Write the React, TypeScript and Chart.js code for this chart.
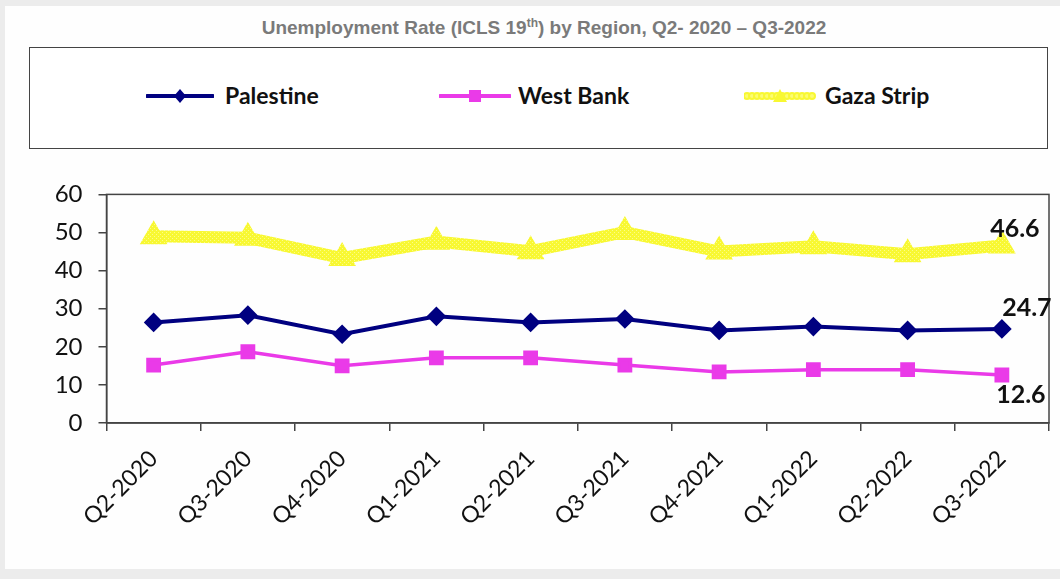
import React, { useEffect, useRef } from "react";
import { Chart, registerables } from "chart.js";

Chart.register(...registerables);

const categories = ["Q2-2020", "Q3-2020", "Q4-2020", "Q1-2021", "Q2-2021", "Q3-2021", "Q4-2021", "Q1-2022", "Q2-2022", "Q3-2022"];
const palestine = [26.4, 28.3, 23.3, 28.0, 26.4, 27.3, 24.3, 25.3, 24.3, 24.7];
const westBank = [15.2, 18.7, 15.0, 17.1, 17.1, 15.2, 13.4, 14.0, 14.0, 12.6];
const gaza = [49.0, 48.6, 43.3, 47.6, 45.1, 50.1, 45.0, 46.4, 44.3, 46.6];
const yTicks = [0, 10, 20, 30, 40, 50, 60];

const NAVY = "#000080";
const MAGENTA = "#ea3ae8";
const YELLOW = "#f8f832";

function makeYellowPattern(ctx: CanvasRenderingContext2D): CanvasPattern | string {
  const c = document.createElement("canvas");
  c.width = 4;
  c.height = 4;
  const p = c.getContext("2d");
  if (!p) return YELLOW;
  p.fillStyle = YELLOW;
  p.fillRect(0, 0, 4, 4);
  p.fillStyle = "#fcfc8a";
  p.fillRect(0, 0, 1, 1);
  p.fillRect(2, 2, 1, 1);
  const pat = ctx.createPattern(c, "repeat");
  return pat || YELLOW;
}

const framePlugin = {
  id: "frame",
  afterDatasetsDraw(chart: any) {
    const { ctx, chartArea } = chart;
    ctx.save();
    ctx.strokeStyle = "#444";
    ctx.lineWidth = 1.5;
    ctx.strokeRect(chartArea.left, chartArea.top, chartArea.right - chartArea.left, chartArea.bottom - chartArea.top);
    ctx.restore();
  },
};

const endLabelPlugin = {
  id: "endLabels",
  afterDatasetsDraw(chart: any) {
    const { ctx } = chart;
    const offsets = [
      { ds: 0, dx: 25, dy: -21 },
      { ds: 1, dx: 19, dy: 20 },
      { ds: 2, dx: 13, dy: -17 },
    ];
    ctx.save();
    ctx.font = "bold 25px Lato";
    ctx.fillStyle = "#111";
    ctx.textAlign = "center";
    ctx.textBaseline = "middle";
    offsets.forEach(({ ds, dx, dy }) => {
      const meta = chart.getDatasetMeta(ds);
      const data = chart.data.datasets[ds].data as number[];
      const i = data.length - 1;
      const pt = meta.data[i];
      ctx.fillText(data[i].toFixed(1), pt.x + dx, pt.y + dy);
    });
    ctx.restore();
  },
};

function LegendSample({ kind }: { kind: "pal" | "wb" | "gz" }) {
  if (kind === "pal") {
    return (
      <svg width="68" height="20" style={{ display: "block" }}>
        <line x1="1" y1="10" x2="67" y2="10" stroke={NAVY} strokeWidth="4" strokeLinecap="round" />
        <polygon points="34,3 40,10 34,17 28,10" fill={NAVY} />
      </svg>
    );
  }
  if (kind === "wb") {
    return (
      <svg width="72" height="20" style={{ display: "block" }}>
        <line x1="1" y1="10" x2="71" y2="10" stroke={MAGENTA} strokeWidth="4" strokeLinecap="round" />
        <rect x="30" y="4" width="12" height="12" fill={MAGENTA} />
      </svg>
    );
  }
  const circles = [];
  for (let x = 3; x <= 68; x += 5) {
    circles.push(<circle key={x} cx={x} cy="10" r="3" fill="#fcfc70" stroke={YELLOW} strokeWidth="2" />);
  }
  return (
    <svg width="72" height="20" style={{ display: "block" }}>
      {circles}
      <polygon points="36,3 43,16 29,16" fill={YELLOW} />
    </svg>
  );
}

export default function App() {
  const canvasRef = useRef<HTMLCanvasElement | null>(null);

  useEffect(() => {
    const canvas = canvasRef.current;
    if (!canvas) return;
    const ctx = canvas.getContext("2d");
    if (!ctx) return;
    const yellowPat = makeYellowPattern(ctx);

    const chart = new Chart(ctx, {
      type: "line",
      data: {
        labels: categories,
        datasets: [
          {
            label: "Palestine",
            data: palestine,
            borderColor: NAVY,
            backgroundColor: NAVY,
            borderWidth: 4,
            pointStyle: "rectRot",
            pointRadius: 7,
            pointBackgroundColor: NAVY,
            pointBorderColor: NAVY,
            tension: 0,
          },
          {
            label: "West Bank",
            data: westBank,
            borderColor: MAGENTA,
            backgroundColor: MAGENTA,
            borderWidth: 3.5,
            pointStyle: "rect",
            pointRadius: 8,
            pointBackgroundColor: MAGENTA,
            pointBorderColor: MAGENTA,
            tension: 0,
          },
          {
            label: "Gaza Strip",
            data: gaza,
            borderColor: yellowPat as any,
            backgroundColor: yellowPat as any,
            borderWidth: 12,
            pointStyle: "triangle",
            pointRadius: 4,
            pointBackgroundColor: yellowPat as any,
            pointBorderColor: yellowPat as any,
            tension: 0,
            order: 3,
          },
        ],
      },
      options: {
        responsive: false,
        animation: false,
        layout: { padding: { top: 0, right: 0, left: 0, bottom: 0 } },
        plugins: {
          legend: { display: false },
          title: { display: false },
          tooltip: { enabled: false },
        },
        scales: {
          x: {
            type: "category",
            offset: true,
            grid: { offset: true, drawOnChartArea: false, tickLength: 8, color: "#444", lineWidth: 1.5 },
            border: { color: "#444", width: 1.5 },
            ticks: {
              color: "#111",
              font: { family: "Lato", size: 23 },
              minRotation: 45,
              maxRotation: 45,
              padding: 14,
              autoSkip: false,
            },
            afterFit: (s: any) => {
              s.height = 147;
            },
          },
          y: {
            min: yTicks[0],
            max: yTicks[yTicks.length - 1],
            afterBuildTicks: (s: any) => {
              s.ticks = yTicks.map((v) => ({ value: v }));
            },
            grid: { drawOnChartArea: false, tickLength: 8, color: "#444", lineWidth: 1.5 },
            border: { color: "#444", width: 1.5 },
            ticks: {
              color: "#111",
              font: { family: "Lato", size: 24 },
              padding: 16,
            },
            afterFit: (s: any) => {
              s.width = 76.5;
            },
          },
        },
      },
      plugins: [framePlugin, endLabelPlugin],
    });
    return () => chart.destroy();
  }, []);

  const legendText: React.CSSProperties = {
    fontFamily: "Lato",
    fontWeight: 700,
    fontSize: 23,
    color: "#111",
    lineHeight: "24px",
  };

  return (
    <div style={{ position: "absolute", left: 0, top: 0, width: 1060, height: 579, background: "#ececec", overflow: "hidden" }}>
      <div style={{ position: "absolute", left: 5, top: 6, width: 1055, height: 563, background: "#fefefe" }} />
      <div
        style={{
          position: "absolute",
          left: 0,
          top: 16,
          width: 1088,
          textAlign: "center",
          fontFamily: "'Liberation Sans', Arial, sans-serif",
          fontWeight: 700,
          fontSize: 19,
          color: "#7a7a7a",
          lineHeight: "24px",
        }}
      >
        Unemployment Rate (ICLS 19<sup style={{ fontSize: 12, lineHeight: 0 }}>th</sup>) by Region, Q2- 2020 – Q3-2022
      </div>
      <div
        style={{
          position: "absolute",
          left: 29,
          top: 47,
          width: 1017,
          height: 100,
          border: "1.5px solid #444",
          background: "#fff",
        }}
      />
      <div style={{ position: "absolute", left: 146, top: 86 }}>
        <LegendSample kind="pal" />
      </div>
      <div style={{ position: "absolute", left: 225, top: 83, ...legendText }}>Palestine</div>
      <div style={{ position: "absolute", left: 439, top: 86 }}>
        <LegendSample kind="wb" />
      </div>
      <div style={{ position: "absolute", left: 518, top: 83, ...legendText }}>West Bank</div>
      <div style={{ position: "absolute", left: 744, top: 86 }}>
        <LegendSample kind="gz" />
      </div>
      <div style={{ position: "absolute", left: 825, top: 83, ...legendText }}>Gaza Strip</div>
      <div style={{ position: "absolute", left: 30, top: 164, width: 1035, height: 406 }}>
        <canvas ref={canvasRef} width={1035} height={406} style={{ display: "block" }} />
      </div>
    </div>
  );
}
